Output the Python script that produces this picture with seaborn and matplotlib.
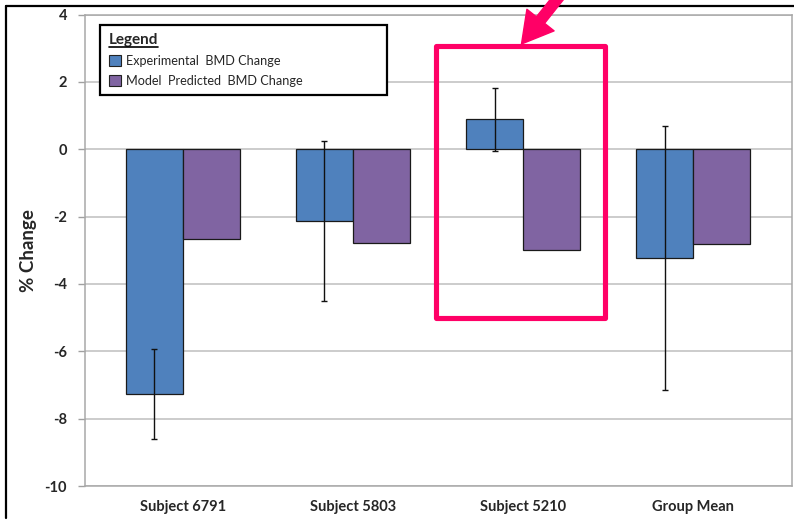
import matplotlib
matplotlib.use("Agg")
import matplotlib.pyplot as plt
import matplotlib.patches as mpatches
from matplotlib.lines import Line2D
import numpy as np
import pandas as pd
import seaborn as sns

# ---- data -------------------------------------------------------------
categories = ["Subject 6791", "Subject 5803", "Subject 5210", "Group Mean"]
series_names = ["Experimental  BMD Change", "Model  Predicted  BMD Change"]
experimental = [-7.26, -2.14, 0.89, -3.23]
experimental_err = [1.33, 2.37, 0.93, 3.93]
predicted = [-2.67, -2.79, -3.00, -2.82]
y_ticks = [-10, -8, -6, -4, -2, 0, 2, 4]
y_label = "% Change"
legend_title = "Legend"
highlight_category = "Subject 5210"

colors = ["#4F81BD", "#8064A2"]

df = pd.DataFrame({
    "category": categories * 2,
    "series": [series_names[0]] * len(categories) + [series_names[1]] * len(categories),
    "value": experimental + predicted,
})

# ---- figure -----------------------------------------------------------
sns.set_theme(style="white")
plt.rcParams["font.family"] = ["Lato", "DejaVu Sans"]

W, H = 794, 523
fig = plt.figure(figsize=(W / 100, H / 100), dpi=100)
ax = fig.add_axes([85 / W, 1 - 486 / H, (792 - 85) / W, (486 - 14.5) / H])

sns.barplot(data=df, x="category", y="value", hue="series", order=categories,
            hue_order=series_names, palette=colors, width=0.67, saturation=1,
            edgecolor="#1a1a1a", linewidth=0.9, errorbar=None, ax=ax, zorder=3)

# error bars on the experimental bars, placed at the bars seaborn drew
exp_bars = [p for p in ax.patches if isinstance(p, mpatches.Rectangle)][:len(categories)]
exp_bars = sorted(exp_bars, key=lambda p: p.get_x())
xs = [p.get_x() + p.get_width() / 2 for p in exp_bars]
ax.errorbar(xs, experimental, yerr=experimental_err, fmt="none", ecolor="#111111",
            elinewidth=1.0, capsize=2.3, capthick=1.0, zorder=4)

ax.set_ylim(-10, 4)
ax.set_yticks(y_ticks)
ax.set_yticklabels([str(t) for t in y_ticks], fontweight="bold", fontsize=10.5)
ax.set_xlim(-0.576, 3.582)
ax.set_xlabel("")
ax.set_ylabel(y_label, fontweight="bold", fontsize=13.5)
ax.yaxis.set_label_coords(-0.068, 0.5)
ax.tick_params(axis="x", length=0, pad=10, labelsize=10.5)
ax.tick_params(axis="y", length=5, width=1, color="#A0A0A0", pad=8, left=True)
for lbl in ax.get_xticklabels():
    lbl.set_fontweight("bold")

ax.grid(axis="y", color="#BFBFBF", linewidth=1.1, zorder=0)
ax.set_axisbelow(True)
for side in ["left", "right", "top", "bottom"]:
    ax.spines[side].set_color("#A8A8A8")
    ax.spines[side].set_linewidth(1.1)
    ax.spines[side].set_visible(True)

# legend box
leg = ax.legend(title=legend_title, loc="upper left",
                bbox_to_anchor=(15 / 707, 1 - 10 / 471.5, 287 / 707, 0),
                mode="expand", borderaxespad=0, fontsize=9.1, title_fontsize=11,
                frameon=True, fancybox=False, alignment="left",
                handlelength=0.95, handleheight=0.95, handletextpad=0.45,
                labelspacing=0.62, borderpad=0.68)
leg.get_title().set_fontweight("bold")
frame = leg.get_frame()
frame.set_edgecolor("black")
frame.set_linewidth(1.6)
frame.set_facecolor("white")
frame.set_alpha(1)
for h in leg.legend_handles:
    h.set_edgecolor("#222222")
    h.set_linewidth(0.8)

# highlight box around one category
ci = categories.index(highlight_category)
hl = mpatches.Rectangle((ci - 0.509, -5.01), 0.994, 8.06, fill=False,
                        edgecolor="#FF0066", linewidth=3.7, joinstyle="round",
                        zorder=6, clip_on=False)
ax.add_patch(hl)

# pointer arrow coming in from the top
arrow = mpatches.FancyArrowPatch(
    posA=(566 / W, 1 + 12 / H), posB=(521.5 / W, 1 - 44 / H),
    transform=fig.transFigure,
    arrowstyle=mpatches.ArrowStyle.Simple(head_length=22, head_width=25, tail_width=7.5),
    mutation_scale=1, color="#FF0066", shrinkA=0, shrinkB=0, zorder=7, clip_on=False)
fig.add_artist(arrow)

# outer frame lines on top and left
fig.add_artist(Line2D([5.5 / W, 1], [1 - 5.5 / H, 1 - 5.5 / H], transform=fig.transFigure,
                      color="black", linewidth=1.6))
fig.add_artist(Line2D([5.5 / W, 5.5 / W], [1 - 5.5 / H, 1 - 518 / H], transform=fig.transFigure,
                      color="black", linewidth=1.6))

# underline the legend title
fig.canvas.draw()
renderer = fig.canvas.get_renderer()
tb = leg.get_title().get_window_extent(renderer)
fig.add_artist(Line2D([tb.x0 / W, tb.x1 / W], [(tb.y0 + 0.5) / H, (tb.y0 + 0.5) / H],
                      transform=fig.transFigure, color="black", linewidth=1.2, zorder=8))

fig.savefig("out.png", dpi=100)
